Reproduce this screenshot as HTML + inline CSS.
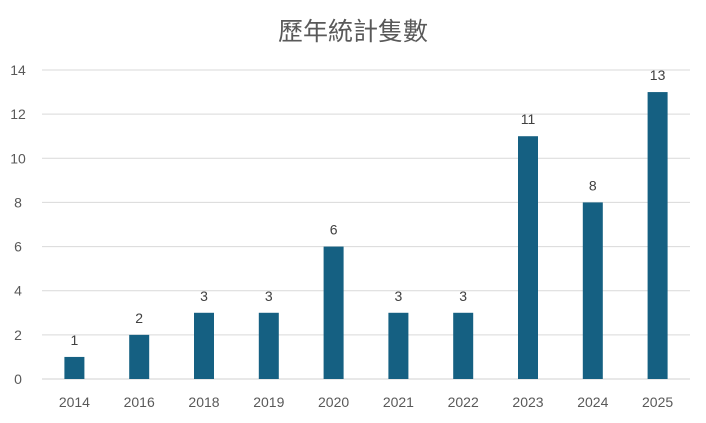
<!DOCTYPE html>
<html><head><meta charset="utf-8"><style>
body{margin:0;background:#fff;}
svg{display:block;font-family:"Liberation Sans","Noto Sans CJK TC",sans-serif;}
</style></head><body>
<svg id="chart" width="706" height="423">
<text x="353" y="40" text-anchor="middle" font-size="25" fill="#595959">歷年統計隻數</text>
<g id="grid"></g><g id="bars"></g>
</svg>
<script>
const categories=["2014","2016","2018","2019","2020","2021","2022","2023","2024","2025"];
const values=[1,2,3,3,6,3,3,11,8,13];
const yTicks=[0,2,4,6,8,10,12,14];
const ns="http://www.w3.org/2000/svg";
const x0=42,x1=690,yBase=379,yTop=70,yMax=14;
const y=v=>yBase-(v/yMax)*(yBase-yTop);
const band=(x1-x0)/categories.length;
const xc=i=>x0+band*(i+0.5);
const grid=document.getElementById('grid'),bars=document.getElementById('bars');
function mk(t,a,p){const e=document.createElementNS(ns,t);for(const k in a)e.setAttribute(k,a[k]);p.appendChild(e);return e;}
yTicks.forEach(t=>{
 const l=mk('line',{x1:x0,x2:x1,y1:y(t),y2:y(t),stroke:t===0?'#d0d0d0':'#d9d9d9','stroke-width':1},grid);
 
 
 const tx=mk('text',{x:18,y:y(t)+5,'text-anchor':'middle','font-size':14,fill:'#595959'},grid);
 tx.textContent=t;
 
 
});
categories.forEach((c,i)=>{
 const v=values[i];
 const r=mk('rect',{x:xc(i)-10,y:y(v),width:20,height:yBase-y(v),fill:'#156082'},bars);
 
 
 const lb=mk('text',{x:xc(i),y:y(v)-12,'text-anchor':'middle','font-size':14,fill:'#404040'},bars);
 lb.textContent=v;
 
 
 const xl=mk('text',{x:xc(i),y:407,'text-anchor':'middle','font-size':14,fill:'#595959'},bars);
 xl.textContent=c;
 
 
});
</script>
</body></html>
